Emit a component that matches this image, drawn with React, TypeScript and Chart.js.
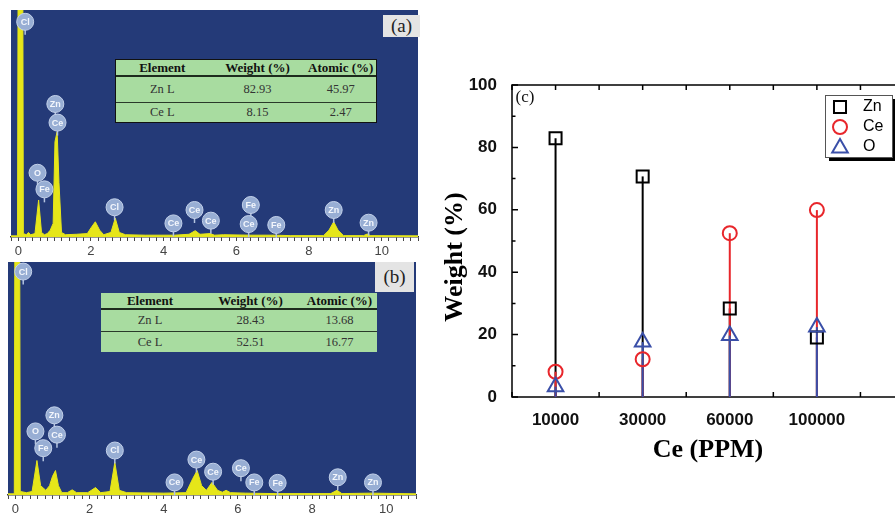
import React, { useEffect, useRef } from 'react';
import { Chart, registerables } from 'chart.js';

Chart.register(...registerables);

// ---------- Panel (a): EDS spectrum ----------
const SPEC_A_KEV = [-0.2, -0.02, 0.0, 0.12, 0.14, 0.22, 0.28, 0.34, 0.46, 0.56, 0.64, 0.72, 0.8, 0.88, 0.96, 1.01, 1.07, 1.12, 1.19, 1.3, 1.6, 1.9, 2.0, 2.12, 2.24, 2.35, 2.55, 2.67, 2.78, 2.95, 3.5, 4.3, 4.7, 4.87, 5.0, 5.28, 5.4, 5.65, 6.4, 7.05, 7.5, 8.4, 8.55, 8.68, 8.8, 8.95, 9.5, 9.6, 9.7, 11.1];
const SPEC_A_COUNTS = [0.5, 0.5, 150, 150, 1.5, 1, 2, 1, 1.5, 16.3, 2, 1, 1.5, 3, 6, 42, 46.4, 24, 2, 1, 1.2, 1.5, 4, 6.7, 3, 1, 2, 8.3, 2, 1, 0.8, 0.8, 1.2, 2.8, 1.2, 1.5, 0.8, 1, 0.8, 0.8, 0.6, 0.6, 3, 6.7, 3, 0.6, 0.6, 1.3, 0.6, 0.5];
const PEAK_A_NAMES = ['Cl', 'Zn', 'Ce', 'O', 'Fe', 'Cl', 'Ce', 'Ce', 'Ce', 'Fe', 'Ce', 'Fe', 'Zn', 'Zn'];
const PEAK_A_KEV = [0.19, 1.02, 1.08, 0.53, 0.72, 2.65, 4.27, 4.85, 5.3, 6.4, 6.34, 7.1, 8.68, 9.64];
const PEAK_A_LEVEL = [94.8, 58.6, 50.4, 28.3, 21.0, 13.1, 6.0, 11.9, 7.2, 14.1, 5.7, 5.3, 11.9, 6.3];
const TABLE_A_ROWS = [
  ['Element', 'Weight (%)', 'Atomic (%)'],
  ['Zn L', '82.93', '45.97'],
  ['Ce L', '8.15', '2.47'],
];

// ---------- Panel (b): EDS spectrum ----------
const SPEC_B_KEV = [-0.2, -0.03, -0.01, 0.11, 0.13, 0.3, 0.45, 0.58, 0.68, 0.75, 0.82, 0.92, 1.0, 1.08, 1.16, 1.25, 1.4, 1.53, 1.65, 1.95, 2.16, 2.3, 2.55, 2.68, 2.8, 3.0, 4.0, 4.6, 4.78, 4.9, 5.02, 5.15, 5.3, 5.45, 5.58, 5.68, 5.8, 6.2, 7.0, 8.5, 8.67, 8.8, 9.6, 10.8];
const SPEC_B_COUNTS = [0.5, 0.5, 150, 150, 1.5, 1, 1.5, 14.8, 4, 3, 2, 4, 8, 10.5, 4, 1, 1, 2.2, 1, 1, 3.2, 1, 1.5, 14, 2, 1, 0.8, 1, 7, 10.5, 4, 2, 5.4, 2, 1.2, 2, 1, 0.8, 0.6, 0.6, 2, 0.6, 0.8, 0.5];
const PEAK_B_NAMES = ['Cl', 'Zn', 'Ce', 'O', 'Fe', 'Cl', 'Ce', 'Ce', 'Ce', 'Ce', 'Fe', 'Fe', 'Zn', 'Zn'];
const PEAK_B_KEV = [0.21, 1.05, 1.12, 0.54, 0.75, 2.68, 4.29, 4.88, 5.33, 6.08, 6.44, 7.07, 8.69, 9.64];
const PEAK_B_LEVEL = [95.9, 34.2, 25.9, 27.3, 20.1, 19.1, 5.4, 15.2, 10.0, 11.5, 5.4, 5.2, 7.6, 5.4];
const TABLE_B_ROWS = [
  ['Element', 'Weight (%)', 'Atomic (%)'],
  ['Zn L', '28.43', '13.68'],
  ['Ce L', '52.51', '16.77'],
];

// ---------- Panel (c): weight vs Ce concentration ----------
const CE_PPM_LABELS = ['10000', '30000', '60000', '100000'];
const ZN_WEIGHT = [82.9, 70.7, 28.4, 19.1];
const CE_WEIGHT = [8.1, 12.1, 52.5, 59.9];
const O_WEIGHT = [3.3, 17.6, 19.7, 22.4];
const SERIES_NAMES = ['Zn', 'Ce', 'O'];

const BLUE_BG = '#243a78';
const YELLOW = '#e6e619';
const BLACK = '#000000';
const RED = '#e8262b';
const BLUE = '#3a4fa8';

type EdsProps = {
  left: number;
  top: number;
  width: number;
  height: number;
  pad: { left: number; top: number; right: number };
  axisHeight: number;
  xMin: number;
  xMax: number;
  energy: number[];
  counts: number[];
  peakNames: string[];
  peakKev: number[];
  peakLevel: number[];
};

function EdsPanel(p: EdsProps) {
  const ref = useRef<HTMLCanvasElement | null>(null);
  useEffect(() => {
    if (!ref.current) return;
    const bgPlugin = {
      id: 'edsBg',
      beforeDraw(chart: any) {
        const { ctx, chartArea: a } = chart;
        ctx.save();
        ctx.fillStyle = BLUE_BG;
        ctx.fillRect(a.left, a.top, a.right - a.left, a.bottom - a.top);
        ctx.restore();
      },
    };
    const badgePlugin = {
      id: 'edsBadges',
      afterDatasetsDraw(chart: any) {
        const { ctx } = chart;
        const xs = chart.scales.x;
        const ys = chart.scales.y;
        ctx.save();
        p.peakNames.forEach((name, i) => {
          const px = xs.getPixelForValue(p.peakKev[i]);
          const py = ys.getPixelForValue(p.peakLevel[i]);
          ctx.strokeStyle = '#b4c4e0';
          ctx.lineWidth = 1.5;
          ctx.beginPath();
          ctx.moveTo(px, py + 8);
          ctx.lineTo(px, py + 13);
          ctx.stroke();
          ctx.beginPath();
          ctx.arc(px, py, 8.5, 0, Math.PI * 2);
          ctx.fillStyle = '#98aed4';
          ctx.fill();
          ctx.strokeStyle = '#c3d1ea';
          ctx.lineWidth = 1;
          ctx.stroke();
          ctx.fillStyle = '#f3f6fc';
          ctx.font = 'bold 9px "Liberation Sans"';
          ctx.textAlign = 'center';
          ctx.textBaseline = 'middle';
          ctx.fillText(name, px, py + 0.5);
        });
        ctx.restore();
      },
    };
    const chart = new Chart(ref.current, {
      type: 'line',
      data: {
        datasets: [
          {
            data: p.energy.map((e, i) => ({ x: e, y: p.counts[i] })),
            borderColor: YELLOW,
            backgroundColor: YELLOW,
            borderWidth: 1,
            fill: 'origin',
            pointRadius: 0,
            tension: 0,
          },
        ],
      },
      options: {
        animation: false,
        responsive: false,
        maintainAspectRatio: false,
        layout: { padding: { left: p.pad.left, top: p.pad.top, right: p.pad.right, bottom: 0 } },
        plugins: { legend: { display: false }, tooltip: { enabled: false } },
        scales: {
          x: {
            type: 'linear',
            min: p.xMin,
            max: p.xMax,
            grid: {
              display: true,
              drawOnChartArea: false,
              drawTicks: true,
              tickLength: 4,
              color: '#444',
            },
            border: { display: true, color: '#333', width: 1.5 },
            ticks: {
              stepSize: 0.2,
              autoSkip: false,
              maxRotation: 0,
              padding: 3,
              color: '#444',
              font: { family: 'Liberation Sans', size: 13 },
              callback: (v: any) => {
                const n = Math.round(Number(v) * 10) / 10;
                return Number.isInteger(n) && n % 2 === 0 ? String(n) : '';
              },
            },
            afterFit: (s: any) => {
              s.height = p.axisHeight;
            },
          },
          y: { display: false, min: 0, max: 100 },
        },
      },
      plugins: [bgPlugin, badgePlugin],
    } as any);
    return () => chart.destroy();
  }, []);
  return (
    <canvas
      ref={ref}
      width={p.width}
      height={p.height}
      style={{ position: 'absolute', left: p.left, top: p.top, width: p.width, height: p.height }}
    />
  );
}

function EdsTable(props: {
  left: number;
  top: number;
  colWidths: number[];
  rowHeights: number[];
  outline: boolean;
  rows: string[][];
}) {
  const width = props.colWidths.reduce((a, b) => a + b, 0);
  return (
    <div
      style={{
        position: 'absolute',
        left: props.left,
        top: props.top,
        width,
        background: '#a8dca0',
        boxSizing: 'border-box',
        border: props.outline ? '1.5px solid #111' : 'none',
        fontFamily: '"Liberation Serif", serif',
      }}
    >
      {props.rows.map((row, ri) => (
        <div
          key={ri}
          style={{
            display: 'flex',
            height: props.rowHeights[ri],
            boxSizing: 'border-box',
            borderBottom:
              ri === 0 ? '2px solid #1d2b1d' : ri < props.rows.length - 1 ? '1.5px solid #2a3a2a' : 'none',
          }}
        >
          {row.map((cell, ci) => (
            <div
              key={ci}
              style={{
                width: props.colWidths[ci] - (props.outline && (ci === 0 || ci === 2) ? 1.5 : 0),
                display: 'flex',
                alignItems: 'center',
                justifyContent: 'center',
                whiteSpace: 'nowrap',
                fontSize: ri === 0 ? 13 : 12.5,
                fontWeight: ri === 0 ? 'bold' : 'normal',
                color: ri === 0 ? '#111' : '#333',
              }}
            >
              {cell}
            </div>
          ))}
        </div>
      ))}
    </div>
  );
}

function PanelTag(props: { left: number; top: number; width: number; height: number; text: string }) {
  return (
    <div
      style={{
        position: 'absolute',
        left: props.left,
        top: props.top,
        width: props.width,
        height: props.height,
        background: '#e4e4e4',
        display: 'flex',
        alignItems: 'center',
        justifyContent: 'center',
        fontFamily: '"Liberation Serif", serif',
        fontSize: 19,
        color: '#222',
      }}
    >
      {props.text}
    </div>
  );
}

function WeightPanel() {
  const ref = useRef<HTMLCanvasElement | null>(null);
  useEffect(() => {
    if (!ref.current) return;
    const pts = (vals: number[]) => vals.map((v, i) => ({ x: i + 1, y: v }));
    const drawMarker = (ctx: CanvasRenderingContext2D, style: string, x: number, y: number, color: string) => {
      ctx.save();
      ctx.strokeStyle = color;
      ctx.lineWidth = 2;
      ctx.beginPath();
      if (style === 'rect') {
        const s = 8.5 * Math.SQRT1_2;
        ctx.rect(x - s, y - s, 2 * s, 2 * s);
      } else if (style === 'circle') {
        ctx.arc(x, y, 7, 0, Math.PI * 2);
      } else {
        const r = 9;
        ctx.moveTo(x, y - r);
        ctx.lineTo(x + r * Math.sin((2 * Math.PI) / 3), y - r * Math.cos((2 * Math.PI) / 3));
        ctx.lineTo(x + r * Math.sin((4 * Math.PI) / 3), y - r * Math.cos((4 * Math.PI) / 3));
        ctx.closePath();
      }
      ctx.stroke();
      ctx.restore();
    };
    const framePlugin = {
      id: 'frame',
      beforeDatasetsDraw(chart: any) {
        const { ctx, chartArea: a } = chart;
        const xs = chart.scales.x;
        const ys = chart.scales.y;
        ctx.save();
        ctx.strokeStyle = '#000';
        ctx.lineWidth = 1.5;
        ctx.strokeRect(a.left, a.top, a.right - a.left, a.bottom - a.top);
        ctx.beginPath();
        ys.ticks.forEach((t: any) => {
          const py = ys.getPixelForValue(t.value);
          const len = t.value % 20 === 0 ? 6 : 3.5;
          ctx.moveTo(a.left, py);
          ctx.lineTo(a.left + len, py);
          ctx.moveTo(a.right, py);
          ctx.lineTo(a.right - len, py);
        });
        xs.ticks.forEach((t: any) => {
          const px = xs.getPixelForValue(t.value);
          ctx.moveTo(px, a.bottom);
          ctx.lineTo(px, a.bottom - 5);
          ctx.moveTo(px, a.top);
          ctx.lineTo(px, a.top + 5);
        });
        ctx.stroke();
        ctx.restore();
      },
    };
    const decorPlugin = {
      id: 'decor',
      afterDraw(chart: any) {
        const { ctx, chartArea: a } = chart;
        ctx.save();
        ctx.translate(15, 197);
        ctx.rotate(-Math.PI / 2);
        ctx.font = 'bold 26px "Liberation Serif"';
        ctx.fillStyle = '#000';
        ctx.textAlign = 'center';
        ctx.textBaseline = 'middle';
        ctx.fillText('Weight (%)', 0, 0);
        ctx.restore();
        ctx.save();
        ctx.font = '17px "Liberation Serif"';
        ctx.fillStyle = '#111';
        ctx.textAlign = 'center';
        ctx.textBaseline = 'middle';
        ctx.fillText('(c)', a.left + 13, a.top + 13);
        ctx.restore();
        const lx = 385;
        const ly = 35;
        const lw = 67;
        const lh = 62;
        ctx.save();
        ctx.fillStyle = '#000';
        ctx.fillRect(lx + 4, ly + 4, lw, lh);
        ctx.fillStyle = '#fff';
        ctx.fillRect(lx, ly, lw, lh);
        ctx.strokeStyle = '#555';
        ctx.lineWidth = 1;
        ctx.strokeRect(lx + 0.5, ly + 0.5, lw, lh);
        const styles = ['rect', 'circle', 'triangle'];
        const colors = [BLACK, RED, BLUE];
        SERIES_NAMES.forEach((name, i) => {
          const yy = ly + 12 + i * 20;
          drawMarker(ctx, styles[i], lx + 15, yy + (i === 2 ? 1 : 0), colors[i]);
          ctx.font = '16px "Liberation Sans"';
          ctx.fillStyle = '#000';
          ctx.textAlign = 'left';
          ctx.textBaseline = 'middle';
          ctx.fillText(name, lx + 38, yy);
        });
        ctx.restore();
      },
    };
    const chart = new Chart(ref.current, {
      type: 'scatter',
      data: {
        datasets: [
          { type: 'bar', label: 'Zn stem', data: pts(ZN_WEIGHT), backgroundColor: BLACK, grouped: false, maxBarThickness: 2, order: 5 },
          { type: 'bar', label: 'Ce stem', data: pts(CE_WEIGHT), backgroundColor: RED, grouped: false, maxBarThickness: 2, order: 4 },
          { type: 'bar', label: 'O stem', data: pts(O_WEIGHT), backgroundColor: BLUE, grouped: false, maxBarThickness: 2, order: 3 },
          { type: 'scatter', label: SERIES_NAMES[0], data: pts(ZN_WEIGHT), pointStyle: 'rect', pointRadius: 8.5, borderColor: BLACK, backgroundColor: 'rgba(0,0,0,0)', borderWidth: 2, order: 2 },
          { type: 'scatter', label: SERIES_NAMES[1], data: pts(CE_WEIGHT), pointStyle: 'circle', pointRadius: 7, borderColor: RED, backgroundColor: 'rgba(0,0,0,0)', borderWidth: 2, order: 1 },
          { type: 'scatter', label: SERIES_NAMES[2], data: pts(O_WEIGHT), pointStyle: 'triangle', pointRadius: 9, borderColor: BLUE, backgroundColor: 'rgba(0,0,0,0)', borderWidth: 2, order: 0 },
        ],
      },
      options: {
        animation: false,
        responsive: false,
        maintainAspectRatio: false,
        layout: { padding: { left: 0, top: 25, right: 16, bottom: 0 } },
        plugins: { legend: { display: false }, tooltip: { enabled: false } },
        scales: {
          x: {
            type: 'linear',
            min: 0.5,
            max: 5.0,
            offset: false,
            grid: { display: false },
            border: { display: false },
            ticks: {
              stepSize: 0.5,
              autoSkip: false,
              maxRotation: 0,
              padding: 5,
              color: '#111',
              font: { family: 'Liberation Sans', size: 17, weight: 'bold' },
              callback: (v: any) => {
                const n = Number(v);
                return Number.isInteger(n) && n >= 1 && n <= CE_PPM_LABELS.length ? CE_PPM_LABELS[n - 1] : '';
              },
            },
            title: {
              display: true,
              text: 'Ce (PPM)',
              color: '#000',
              font: { family: 'Liberation Serif', size: 26, weight: 'bold' },
              padding: { top: 0, bottom: 14 },
            },
            afterFit: (s: any) => {
              s.height = 83;
            },
          },
          y: {
            type: 'linear',
            min: 0,
            max: 100,
            grid: { display: false },
            border: { display: false },
            ticks: {
              stepSize: 10,
              autoSkip: false,
              padding: 7,
              color: '#111',
              font: { family: 'Liberation Sans', size: 17, weight: 'bold' },
              callback: (v: any) => (Number(v) % 20 === 0 ? String(v) : ''),
            },
            afterFit: (s: any) => {
              s.width = 72;
            },
          },
        },
      },
      plugins: [framePlugin, decorPlugin],
    } as any);
    return () => chart.destroy();
  }, []);
  return (
    <canvas
      ref={ref}
      width={480}
      height={420}
      style={{ position: 'absolute', left: 440, top: 60, width: 480, height: 420 }}
    />
  );
}

export default function App() {
  return (
    <div
      style={{
        position: 'fixed',
        left: 0,
        top: 0,
        width: 895,
        height: 515,
        overflow: 'hidden',
        background: '#ffffff',
      }}
    >
      <EdsPanel
        left={0}
        top={0}
        width={430}
        height={260}
        pad={{ left: 11, top: 10, right: 12 }}
        axisHeight={23}
        xMin={-0.2}
        xMax={11.0}
        energy={SPEC_A_KEV}
        counts={SPEC_A_COUNTS}
        peakNames={PEAK_A_NAMES}
        peakKev={PEAK_A_KEV}
        peakLevel={PEAK_A_LEVEL}
      />
      <EdsPanel
        left={0}
        top={255}
        width={430}
        height={262}
        pad={{ left: 8, top: 7, right: 14 }}
        axisHeight={22}
        xMin={-0.2}
        xMax={10.8}
        energy={SPEC_B_KEV}
        counts={SPEC_B_COUNTS}
        peakNames={PEAK_B_NAMES}
        peakKev={PEAK_B_KEV}
        peakLevel={PEAK_B_LEVEL}
      />
      <EdsTable left={115} top={59} colWidths={[94, 98, 70]} rowHeights={[17, 26, 19]} outline={true} rows={TABLE_A_ROWS} />
      <EdsTable left={101} top={293} colWidths={[98, 103, 75]} rowHeights={[17, 22, 20]} outline={false} rows={TABLE_B_ROWS} />
      <PanelTag left={383} top={15} width={37} height={22} text="(a)" />
      <PanelTag left={375} top={262} width={39} height={30} text="(b)" />
      <WeightPanel />
    </div>
  );
}
